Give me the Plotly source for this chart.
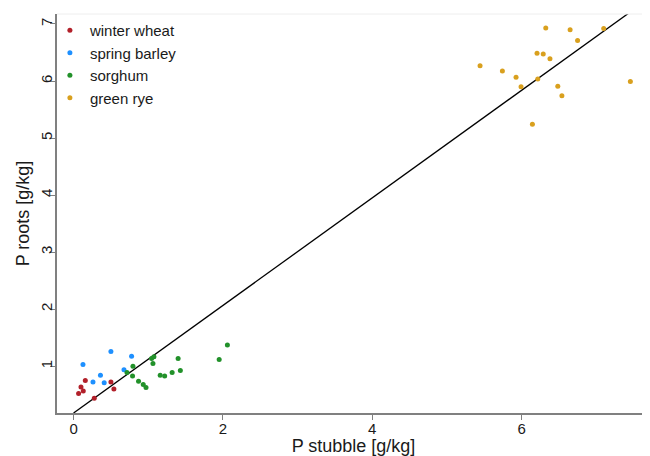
import plotly.graph_objects as go

# Data
ww_x = [0.067, 0.099, 0.130, 0.157, 0.277, 0.50, 0.54]
ww_y = [0.521, 0.637, 0.567, 0.749, 0.439, 0.725, 0.60]

sb_x = [0.126, 0.26, 0.36, 0.41, 0.50, 0.675, 0.777]
sb_y = [1.03, 0.725, 0.84, 0.71, 1.26, 0.94, 1.175]

so_x = [0.715, 0.795, 0.79, 0.87, 0.933, 0.97, 1.045, 1.076, 1.063, 1.16, 1.22, 1.32, 1.40, 1.43, 1.95, 2.06]
so_y = [0.89, 1.0, 0.83, 0.737, 0.68, 0.626, 1.135, 1.165, 1.047, 0.84, 0.83, 0.89, 1.135, 0.925, 1.12, 1.37]

gr_x = [5.444, 5.743, 5.926, 5.993, 6.145, 6.207, 6.217, 6.29, 6.324, 6.38, 6.485, 6.54, 6.65, 6.75, 7.10, 7.457]
gr_y = [6.268, 6.175, 6.065, 5.90, 5.24, 6.486, 6.035, 6.474, 6.93, 6.39, 5.91, 5.74, 6.90, 6.71, 6.92, 5.99]

fit_x = [0.0, 7.7]
fit_y = [0.18, 7.44]

series = [
    ("winter wheat", ww_x, ww_y, "#b2202a"),
    ("spring barley", sb_x, sb_y, "#1e90ff"),
    ("sorghum", so_x, so_y, "#22912a"),
    ("green rye", gr_x, gr_y, "#d9a01e"),
]

x_ticks = [0, 2, 4, 6]
y_ticks = [1, 2, 3, 4, 5, 6, 7]

fig = go.Figure()
fig.add_trace(go.Scatter(x=fit_x, y=fit_y, mode="lines",
                         line=dict(color="black", width=1.3), showlegend=False,
                         hoverinfo="skip"))
for name, xs, ys, col in series:
    fig.add_trace(go.Scatter(x=xs, y=ys, mode="markers", name=name,
                             marker=dict(color=col, size=5, line=dict(width=0))))

font = "Liberation Sans, Arial, Helvetica, sans-serif"
# the page body adds an 8px offset, so the figure is sized/margined to compensate
fig.update_layout(
    width=642, height=448,
    margin=dict(l=49, r=0, t=6, b=43, autoexpand=False),
    paper_bgcolor="white", plot_bgcolor="white",
    font=dict(family=font, size=15, color="#1a1a1a"),
    showlegend=True,
    legend=dict(x=-0.012, y=1.0, xanchor="left", yanchor="top",
                bgcolor="rgba(0,0,0,0)", font=dict(size=15),
                itemwidth=30, tracegroupgap=0),
    xaxis=dict(range=[-0.222, 7.72], tickvals=x_ticks, ticks="outside",
               ticklen=5, tickcolor="#808080", showline=True,
               linecolor="#808080", linewidth=1.5, showgrid=False,
               zeroline=False, automargin=False, ticklabelstandoff=-4,
               title=dict(text="P stubble [g/kg]", standoff=16)),
    yaxis=dict(range=[0.18, 7.175], tickvals=y_ticks, ticks="outside",
               ticklen=5, tickcolor="#808080", showline=True,
               linecolor="#808080", linewidth=1.5, showgrid=False,
               zeroline=False, tickangle=-90, automargin=False,
               ticklabelstandoff=-8,
               title=dict(text="P roots [g/kg]", standoff=4)),
    shapes=[dict(type="line", xref="paper", yref="paper", x0=0, x1=1,
                 y0=1, y1=1, line=dict(color="#eeeeee", width=1))],
)

fig.write_html("out.html")
